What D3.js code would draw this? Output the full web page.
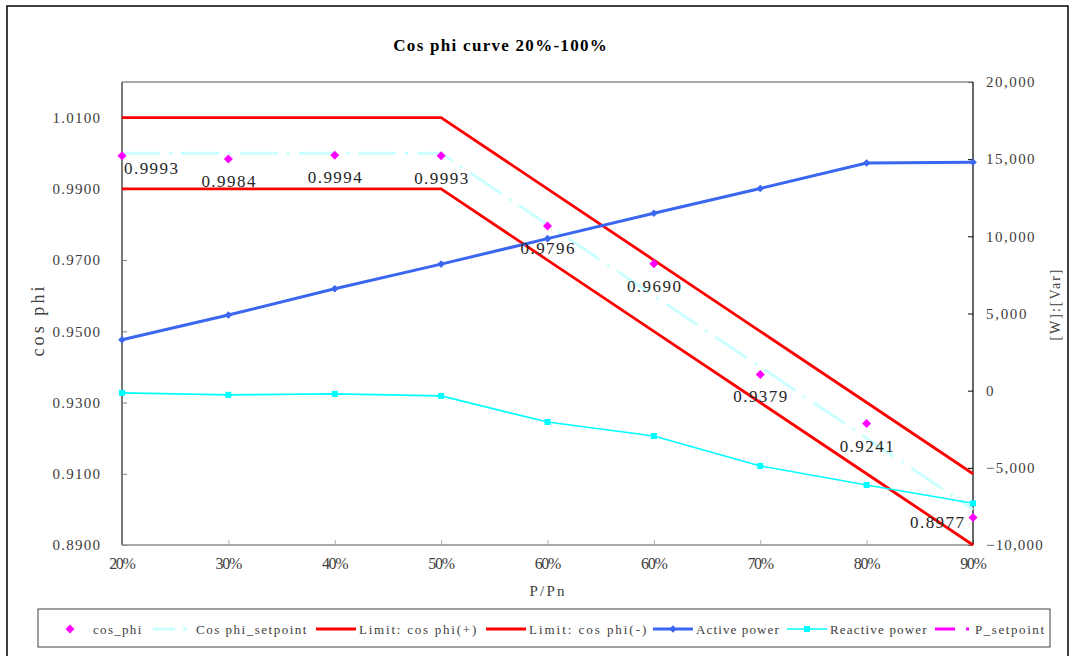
<!DOCTYPE html>
<html><head><meta charset="utf-8">
<script src="https://cdn.jsdelivr.net/npm/d3@7"></script>
<style>
body{margin:0;background:#fff;}
text{font-family:"Liberation Serif","DejaVu Serif",serif;}
</style>
</head><body>
<svg id="chart" width="1073" height="656"></svg>
<script>
// ---- data ----
const categories = ["20%","30%","40%","50%","60%","60%","70%","80%","90%"];
const cosPhi = [0.9993,0.9984,0.9994,0.9993,0.9796,0.9690,0.9379,0.9241,0.8977];
const cosPhiSetpoint = [1.00,1.00,1.00,1.00,0.98,0.96,0.94,0.92,0.90];
const limitPlus = [1.01,1.01,1.01,1.01,0.99,0.97,0.95,0.93,0.91];
const limitMinus = [0.99,0.99,0.99,0.99,0.97,0.95,0.93,0.91,0.89];
const activePower = [3300,4900,6600,8200,9850,11500,13100,14750,14800];
const reactivePower = [-140,-270,-210,-340,-2030,-2940,-4880,-6110,-7300];
const pSetpoint = [null,null,null,null,null,null,null,null,null];
const leftTicks = [0.89,0.91,0.93,0.95,0.97,0.99,1.01];
const rightTicks = [-10000,-5000,0,5000,10000,15000,20000];
const legendNames = ["cos_phi","Cos phi_setpoint","Limit: cos phi(+)","Limit: cos phi(-)","Active power","Reactive power","P_setpoint"];

// ---- helpers ----
// emulate a half-width monospaced CJK font: every character gets the same advance
function fit(sel, cw){
  sel.each(function(){
    const t = d3.select(this);
    t.attr("textLength", t.text().length*cw).attr("lengthAdjust","spacing");
  });
}

// ---- layout ----
const svg = d3.select("#chart");
const L = 122, R = 973, T = 82, B = 545;
const idx = categories.map((d,i)=>i);
const x = d3.scalePoint().domain(idx).range([L,R]).padding(0);
const yL = d3.scaleLinear().domain([0.89,1.02]).range([B,T]);
const yR = d3.scaleLinear().domain([-10000,20000]).range([B,T]);

svg.append("rect").attr("x",7).attr("y",6).attr("width",1061).attr("height",665)
  .attr("fill","#fff").attr("stroke","#000").attr("stroke-width",1.5);

svg.append("text").attr("x",500).attr("y",45).attr("text-anchor","middle")
  .attr("dominant-baseline","central").style("font-size","17px").style("font-weight","bold")
  .attr("fill","#000").text("Cos phi curve 20%-100%").call(fit,9.7);

// axes
const gL = svg.append("g").attr("transform",`translate(${L},0)`)
  .call(d3.axisLeft(yL).tickValues(leftTicks).tickFormat(d3.format(".4f")).tickSize(-5).tickPadding(22));
const gR = svg.append("g").attr("transform",`translate(${R},0)`)
  .call(d3.axisRight(yR).tickValues(rightTicks).tickFormat(d3.format(",")).tickSize(-5).tickPadding(13));
const gB = svg.append("g").attr("transform",`translate(0,${B})`)
  .call(d3.axisBottom(x).tickFormat(i=>categories[i]).tickSize(-5).tickPadding(13));
[gL,gR,gB].forEach(g=>{
  g.select(".domain").remove();
  g.selectAll("text").style("font-size","15px").attr("fill","#404040");
});
gB.selectAll("text").style("font-size","16px");
gL.selectAll("text").call(fit,7.9);
gR.selectAll("text").call(fit,8.1);
gB.selectAll("text").call(fit,8.9);
gL.selectAll("line").attr("stroke","#808080");
gB.selectAll("line").attr("stroke","#b0b0b0");
gR.selectAll("line").attr("stroke","#000");

// plot frame
svg.append("line").attr("x1",L).attr("x2",R).attr("y1",T).attr("y2",T).attr("stroke","#8c8c8c").attr("stroke-width",1.5);
svg.append("line").attr("x1",L).attr("x2",R).attr("y1",B).attr("y2",B).attr("stroke","#8c8c8c").attr("stroke-width",1.5);
svg.append("line").attr("x1",L).attr("x2",L).attr("y1",T).attr("y2",B).attr("stroke","#7a7a7a").attr("stroke-width",2);
svg.append("line").attr("x1",R).attr("x2",R).attr("y1",T).attr("y2",B).attr("stroke","#000").attr("stroke-width",1.2);

// axis titles
svg.append("text").attr("transform",`translate(38,${(T+B)/2+8}) rotate(-90)`)
  .attr("text-anchor","middle").attr("dominant-baseline","central")
  .style("font-size","18px").attr("fill","#404040").text("cos phi").call(fit,10);
svg.append("text").attr("transform",`translate(1055,305) rotate(-90)`)
  .attr("text-anchor","middle").attr("dominant-baseline","central")
  .style("font-size","14px").attr("fill","#404040").text("[W]:[Var]").call(fit,7.9);
svg.append("text").attr("x",547).attr("y",591).attr("text-anchor","middle")
  .attr("dominant-baseline","central").style("font-size","15px").attr("fill","#404040").text("P/Pn").call(fit,8.8);

// series
const lineL = d3.line().defined(d=>d!=null).x((d,i)=>x(i)).y(d=>yL(d));
const lineR = d3.line().defined(d=>d!=null).x((d,i)=>x(i)).y(d=>yR(d));
const diamond = s => `M0,${-s}L${s},0L0,${s}L${-s},0Z`;

svg.append("path").attr("d",lineL(cosPhiSetpoint)).attr("fill","none")
  .attr("stroke","#ccffff").attr("stroke-width",3).attr("stroke-dasharray","38,9,3,9");
svg.append("path").attr("d",lineL(limitPlus)).attr("fill","none").attr("stroke","#ff0000").attr("stroke-width",2.8);
svg.append("path").attr("d",lineL(limitMinus)).attr("fill","none").attr("stroke","#ff0000").attr("stroke-width",2.8);

svg.selectAll(".cp").data(cosPhi).join("path").attr("class","cp")
  .attr("transform",(d,i)=>`translate(${x(i)},${yL(d)})`).attr("d",diamond(4.5)).attr("fill","#ff00ff");

svg.append("path").attr("d",lineR(activePower)).attr("fill","none").attr("stroke","#3a66f0").attr("stroke-width",3);
svg.selectAll(".ap").data(activePower).join("path").attr("class","ap")
  .attr("transform",(d,i)=>`translate(${x(i)},${yR(d)})`).attr("d",diamond(3.8)).attr("fill","#3a66f0");

svg.append("path").attr("d",lineR(reactivePower)).attr("fill","none").attr("stroke","#00ffff").attr("stroke-width",1.6);
svg.selectAll(".rp").data(reactivePower).join("rect").attr("class","rp")
  .attr("x",(d,i)=>x(i)-3).attr("y",d=>yR(d)-3).attr("width",6).attr("height",6).attr("fill","#00ffff");

svg.append("path").attr("d",lineR(pSetpoint)).attr("fill","none").attr("stroke","#ff00ff").attr("stroke-width",3).attr("stroke-dasharray","20,8,3,8");

// data labels
const n = cosPhi.length;
svg.selectAll(".lbl").data(cosPhi).join("text").attr("class","lbl")
  .attr("x",(d,i)=> i===0 ? x(i)+2 : i===n-1 ? x(i)-9 : x(i))
  .attr("y",(d,i)=> yL(d) + (i===0 ? 13 : i===n-1 ? 5 : 22.5))
  .attr("text-anchor",(d,i)=> i===0 ? "start" : i===n-1 ? "end" : "middle")
  .attr("dominant-baseline","central").style("font-size","17px").attr("fill","#262626")
  .text(d=>d3.format(".4f")(d)).call(fit,9);

// legend
const lg = svg.append("g");
lg.append("rect").attr("x",38).attr("y",609).attr("width",1012).attr("height",38)
  .attr("fill","#fff").attr("stroke","#404040").attr("stroke-width",1);
const lx = [50,153,316,486,653,787,932];
const ly = 629;
const sample = [
  g=>g.append("path").attr("transform","translate(20,0)").attr("d",diamond(4.5)).attr("fill","#ff00ff"),
  g=>g.append("line").attr("x1",0).attr("x2",40).attr("stroke","#ccffff").attr("stroke-width",3).attr("stroke-dasharray","22,8,4,20"),
  g=>g.append("line").attr("x1",0).attr("x2",40).attr("stroke","#ff0000").attr("stroke-width",2.8),
  g=>g.append("line").attr("x1",0).attr("x2",40).attr("stroke","#ff0000").attr("stroke-width",2.8),
  g=>{g.append("line").attr("x1",0).attr("x2",40).attr("stroke","#3a66f0").attr("stroke-width",3);
      g.append("path").attr("transform","translate(20,0)").attr("d",diamond(3.8)).attr("fill","#3a66f0");},
  g=>{g.append("line").attr("x1",0).attr("x2",40).attr("stroke","#00ffff").attr("stroke-width",1.6);
      g.append("rect").attr("x",17).attr("y",-3).attr("width",6).attr("height",6).attr("fill","#00ffff");},
  g=>g.append("line").attr("x1",3).attr("x2",40).attr("stroke","#ff00ff").attr("stroke-width",3).attr("stroke-dasharray","20,11,3,20")
];
legendNames.forEach((name,i)=>{
  const g = lg.append("g").attr("transform",`translate(${lx[i]},${ly})`);
  sample[i](g);
  g.append("text").attr("x",43).attr("y",0).attr("dominant-baseline","central")
    .style("font-size","13px").attr("fill","#404040").text(name).call(fit,6.9);
});
</script>
</body></html>
